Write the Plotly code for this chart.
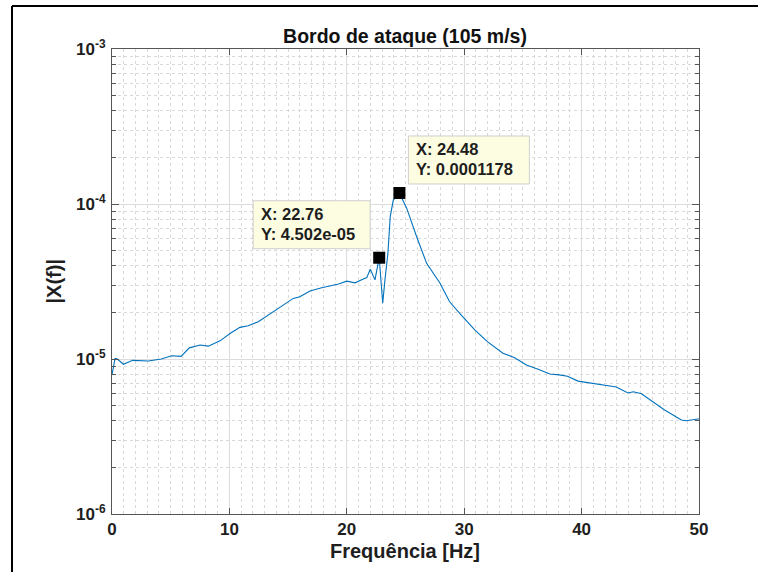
import numpy as np
import plotly.graph_objects as go

# ---- data ----
freq = [0, 0.06, 0.26, 0.46, 0.97, 1.76, 3.1, 4.2, 5.08, 5.88, 6.59, 7.5, 8.2, 9.2,
        10.05, 10.9, 11.6, 12.46, 13.7, 14.7, 15.44, 16.0, 16.87, 17.86, 18.85,
        19.3, 20.0, 20.7, 21.27, 21.7, 22.0, 22.4, 22.76, 23.06, 23.25, 23.5,
        23.7, 23.96, 24.48, 25.1, 25.95, 26.8, 27.94, 28.76, 29.75, 30.9, 32.0,
        33.3, 34.3, 35.3, 36.3, 37.3, 38.1, 38.8, 39.7, 40.8, 41.96, 42.95,
        43.95, 44.4, 45.1, 45.9, 47.07, 48.5, 48.9, 49.9, 50]
mag = [7.9e-6, 8.3e-6, 1.01e-5, 1.0e-5, 9.25e-6, 9.8e-6, 9.7e-6, 1.0e-5, 1.05e-5,
       1.04e-5, 1.18e-5, 1.23e-5, 1.21e-5, 1.31e-5, 1.46e-5, 1.6e-5, 1.64e-5,
       1.74e-5, 2.02e-5, 2.25e-5, 2.46e-5, 2.52e-5, 2.75e-5, 2.88e-5, 3.0e-5,
       3.05e-5, 3.18e-5, 3.1e-5, 3.24e-5, 3.35e-5, 3.79e-5, 3.24e-5, 4.502e-5,
       2.29e-5, 3.24e-5, 4.8e-5, 8.3e-5, 1.06e-4, 1.178e-4, 9.4e-5, 6.15e-5,
       4.14e-5, 3.08e-5, 2.34e-5, 1.92e-5, 1.54e-5, 1.29e-5, 1.09e-5, 1.02e-5,
       9.15e-6, 8.6e-6, 8.0e-6, 7.9e-6, 7.73e-6, 7.2e-6, 6.97e-6, 6.73e-6,
       6.6e-6, 6.04e-6, 6.15e-6, 5.97e-6, 5.44e-6, 4.69e-6, 4.04e-6, 4.0e-6,
       4.1e-6, 4.1e-6]

tip_x = [22.76, 24.48]
tip_y = [4.502e-05, 0.0001178]
tip_xlabels = ["X: 22.76", "X: 24.48"]
tip_ylabels = ["Y: 4.502e-05", "Y: 0.0001178"]

x_ticks = [0, 10, 20, 30, 40, 50]
y_ticks = [1e-6, 1e-5, 1e-4, 1e-3]
y_ticktext = ["10<sup>-6</sup>", "10<sup>-5</sup>", "10<sup>-4</sup>", "10<sup>-3</sup>"]

title_text = "Bordo de ataque (105 m/s)"
x_label = "Frequência [Hz]"
y_label = "|X(f)|"

# ---- figure ----
FONT = "Liberation Sans, Arial, Helvetica, sans-serif"
W, H = 758, 572
L, R, T, B = 112, 59, 49, 58
pw, ph = W - L - R, H - T - B
AX = "#555555"
TXT = "#1e1e1e"

y_minor = [m * 10.0 ** e for e in (-6, -5, -4) for m in range(2, 10)]
x_minor = [v for v in range(0, 51) if v % 10 != 0]

fig = go.Figure()
fig.add_trace(go.Scatter(x=freq, y=mag, mode="lines",
                         line=dict(color="#0072BD", width=1.1),
                         hoverinfo="skip", showlegend=False))
fig.add_trace(go.Scatter(x=tip_x, y=tip_y, mode="markers",
                         marker=dict(symbol="square", size=12, color="black",
                                     line=dict(width=0)),
                         hoverinfo="skip", showlegend=False))

axis_common = dict(showline=True, linecolor=AX, linewidth=1,
                   mirror="ticks", ticks="inside", tickcolor=AX,
                   zeroline=False, showgrid=True, gridcolor="#dcdcdc", gridwidth=1,
                   tickfont=dict(family=FONT, size=17, color=TXT, weight="bold"))

fig.update_xaxes(range=[0, 50], tickmode="array", tickvals=x_ticks,
                 ticktext=[str(v) for v in x_ticks], ticklen=6,
                 minor=dict(tickmode="array", tickvals=x_minor, ticks="",
                            showgrid=True, gridcolor="#d9d9d9", griddash="dot",
                            gridwidth=1),
                 **axis_common)
fig.update_yaxes(type="log", range=[-6, -3], tickmode="array", tickvals=y_ticks,
                 ticktext=y_ticktext, ticklen=7,
                 ticklabelstandoff=2,
                 minor=dict(tickmode="array", tickvals=y_minor, ticks="inside",
                            ticklen=4, tickcolor=AX,
                            showgrid=True, gridcolor="#d9d9d9", griddash="dot",
                            gridwidth=1),
                 **axis_common)

annotations = [
    dict(text=x_label, xref="paper", yref="paper",
         x=(405 - L) / pw, y=-(551 - (H - B)) / ph, xanchor="center", yanchor="middle",
         showarrow=False, font=dict(family=FONT, size=20, color=TXT, weight="bold")),
    dict(text=y_label, xref="paper", yref="paper",
         x=(53 - L) / pw, y=0.5, xanchor="center", yanchor="middle", textangle=-90,
         showarrow=False, font=dict(family=FONT, size=20, color=TXT, weight="bold")),
]

shapes = [
    # outer frame (left and top edges of the screenshot border)
    dict(type="line", xref="paper", yref="paper",
         x0=(12 - L) / pw, x1=(12 - L) / pw, y0=(H - B - 6) / ph, y1=-(B + 20) / ph,
         line=dict(color="black", width=2)),
    dict(type="line", xref="paper", yref="paper",
         x0=(12 - L) / pw, x1=(W - L + 20) / pw, y0=(H - B - 6) / ph, y1=(H - B - 6) / ph,
         line=dict(color="black", width=2)),
]

# data tips: box (pixel-sized shape anchored at the marker) + two text lines
box_specs = [("right", -9, 117), ("left", 9, 121)]
for (side, xs, bw), tx, ty, lx, ly in zip(box_specs, tip_x, tip_y, tip_xlabels, tip_ylabels):
    x0, x1 = (xs - bw, xs) if side == "right" else (xs, xs + bw)
    shapes.append(dict(
        type="rect", xref="x", yref="y", xsizemode="pixel", ysizemode="pixel",
        xanchor=tx, yanchor=ty, x0=x0, x1=x1, y0=9, y1=57,
        fillcolor="#fdfde2", line=dict(color="#cfcfcf", width=1), layer="above"))
    text_left = x0 + 7
    yl = float(np.log10(ty))
    for line, dy in ((lx, 43.5), (ly, 23.6)):
        annotations.append(dict(
            text=line, xref="x", yref="y", x=tx, y=yl,
            xanchor="left", yanchor="middle", xshift=text_left, yshift=dy,
            showarrow=False, align="left", borderpad=0,
            font=dict(family=FONT, size=16.5, color=TXT, weight="bold")))

fig.update_layout(
    width=W, height=H,
    margin=dict(l=L, r=R, t=T, b=B),
    paper_bgcolor="white", plot_bgcolor="white",
    title=dict(text=title_text, x=405 / W, xanchor="center",
               y=1 - 36 / H, yanchor="middle",
               font=dict(family=FONT, size=19.5, color="#111111", weight="bold")),
    annotations=annotations, shapes=shapes,
    hovermode=False, showlegend=False,
)

fig.write_html("out.html", config={"displayModeBar": False},
               post_script="document.body.style.margin='0';document.body.style.overflow='hidden';")
